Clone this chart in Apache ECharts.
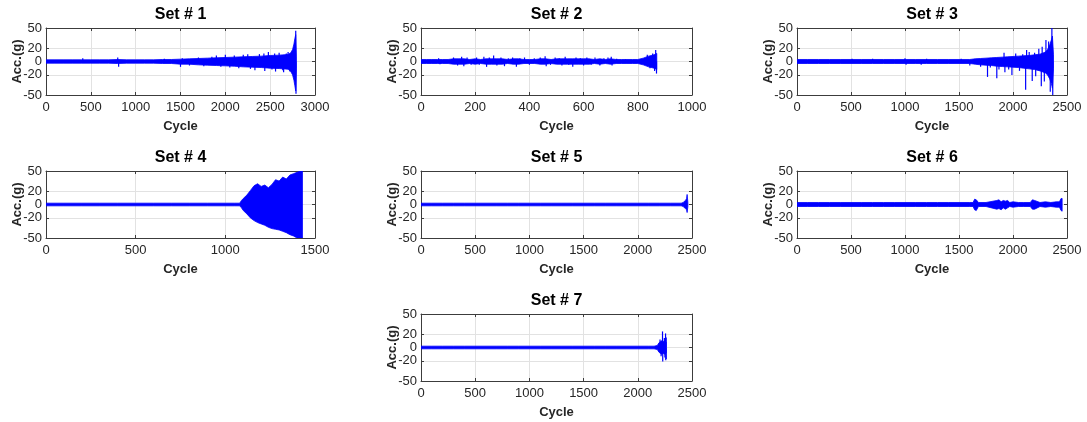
<!DOCTYPE html>
<html>
<head>
<meta charset="utf-8">
<script src="https://cdn.jsdelivr.net/npm/echarts@6/dist/echarts.min.js"></script>
<style>
  html, body { margin: 0; padding: 0; background: #fff; }
  #chart { width: 1087px; height: 422px; }
</style>
</head>
<body>
<div id="chart"></div>
<script>
// Acceleration records per test set.
// Core band: cycle positions with the upper and lower envelope (g).
// Peaks: isolated spikes that stick out of the band (cycle, peak value in g).
const set1Cycle = [0,100,200,300,400,500,600,700,800,900,1000,1100,1200,1300,1400,1500,1600,1700,1800,1900,2000,2100,2200,2300,2400,2500,2600,2700,2730,2750,2765,2775,2785,2792];
const set1Upper = [2.5,2.5,2.5,2.5,2.5,2.5,2.5,2.5,3,2.5,2.5,2.5,2.5,3,3,3.5,4,4.5,5,5.5,6,6.5,7,7.5,8,9,9.5,10.5,13,18,26,34,40,8];
const set1Lower = [-2.5,-2.5,-2.5,-2.5,-2.5,-2.5,-2.5,-2.5,-3,-2.5,-2.5,-2.5,-2.5,-3,-3,-4,-4,-5,-5.5,-6,-6.5,-7,-8,-8.5,-9,-10,-10.5,-11.5,-15,-20,-28,-36,-44,-10];
const set1PeakCycle = [410,800,810,1320,1500,1520,1600,1700,1760,1850,1900,1950,2000,2050,2100,2150,2200,2250,2280,2330,2380,2430,2440,2480,2520,2550,2560,2600,2640,2650,2680,2700,2720,2785,2788];
const set1PeakValue = [5,6,-8,4,-8,5,-6,6,-7,7,9,-8,10,-9,9,-10,10,11,-11,-13,11,12,-14,14,-12,12,-15,13,-13,-16,12,14,-15,46,-48];

const set2Cycle = [0,20,40,60,80,100,120,140,160,180,200,220,240,260,280,300,320,340,360,380,400,420,440,460,480,500,520,540,560,580,600,620,640,660,680,700,720,740,760,780,800,820,840,860,870];
const set2Upper = [3,3,3,3,3,3,4,4,4,3,4,3,4,4,4,4,3,4,4,3,3,3,4,4,3,4,4,4,4,4,4,4,3,4,3,4,3,3,3,3,3,5,8,10,12];
const set2Lower = [-3,-3,-3,-3,-3,-3,-4,-4,-4,-3,-4,-3,-4,-4,-4,-4,-3,-4,-4,-3,-3,-3,-4,-4,-3,-4,-4,-4,-4,-4,-4,-4,-3,-4,-3,-4,-3,-3,-3,-3,-3,-5,-8,-10,-12];
const set2PeakCycle = [65,70,120,135,150,158,170,185,205,215,232,242,252,268,280,295,308,322,338,352,365,382,400,418,440,458,462,478,495,510,520,532,545,560,572,588,600,612,628,642,660,675,690,702,705,722,755,835,845,855,862,866,869];
const set2PeakValue = [5,-4,6,-6,7,-7,6,-5,6,-5,7,-8,6,9,-6,6,-7,5,6,-8,5,6,-5,5,6,8,-7,-5,6,5,-6,7,-5,-8,6,5,-6,6,-5,6,-6,5,6,7,-6,4,3,10,-10,12,-14,17,-18];

const set3Cycle = [0,100,200,300,400,500,600,700,800,900,1000,1100,1200,1300,1400,1500,1600,1650,1700,1750,1800,1850,1900,1950,2000,2050,2100,2150,2200,2250,2300,2320,2340,2355,2365,2375];
const set3Upper = [3,3,3,3,3,3,3,3,3,3,3,3,3,3,3,3,3,4,4.5,5,5.5,6,6.5,7,7.5,8,8.5,9,10,11,14,18,25,32,38,10];
const set3Lower = [-3,-3,-3,-3,-3,-3,-3,-3,-3,-3,-3,-3,-3,-3,-3,-3,-3,-4,-5,-5.5,-6,-7,-7.5,-8,-8.5,-9,-10,-11,-12,-14,-17,-20,-26,-33,-40,-10];
const set3PeakCycle = [510,700,1000,1010,1150,1200,1520,1600,1700,1764,1790,1850,1870,1917,1925,1960,1990,2025,2060,2090,2117,2126,2150,2178,2200,2210,2239,2262,2270,2290,2305,2330,2345,2360,2368];
const set3PeakValue = [4,4,5,-5,-5,4,4,-6,-8,-23,-9,-25,-12,13,-16,-12,-20,12,-14,11,-42,17,14,-29,13,-22,19,-37,22,-30,32,30,-45,50,-50];

const set4Cycle = [0,100,200,300,400,500,600,700,800,900,1000,1050,1080,1090,1100,1120,1140,1160,1180,1200,1220,1240,1260,1280,1300,1320,1340,1360,1380,1400,1420,1430];
const set4Upper = [2,2,2,2,2,2,2,2,2,2,2,2,2,6,9,14,21,28,31,27,29,25,30,37,35,41,38,44,46,48,50,50];
const set4Lower = [-2,-2,-2,-2,-2,-2,-2,-2,-2,-2,-2,-2,-2,-5,-9,-14,-20,-24,-27,-29,-31,-34,-36,-37,-38,-40,-42,-45,-47,-50,-50,-50];
const set4PeakCycle = [];
const set4PeakValue = [];

const set5Cycle = [0,100,200,300,400,500,600,700,800,900,1000,1100,1200,1300,1400,1500,1600,1700,1800,1900,2000,2100,2200,2300,2400,2420,2430,2440,2450,2455,2462];
const set5Upper = [2,2,2,2,2,2,2,2,2,2,2,2,2,2,2,2,2,2,2,2,2,2,2,2,2,3,5,6,9,15,3];
const set5Lower = [-2,-2,-2,-2,-2,-2,-2,-2,-2,-2,-2,-2,-2,-2,-2,-2,-2,-2,-2,-2,-2,-2,-2,-2,-2,-3,-5,-6,-8,-12,-3];
const set5PeakCycle = [];
const set5PeakValue = [];

const set6Cycle = [0,100,200,300,400,500,600,700,800,900,1000,1100,1200,1300,1400,1500,1600,1630,1645,1660,1680,1750,1850,1870,1890,1910,1930,1950,1970,2000,2050,2100,2160,2180,2200,2250,2300,2350,2400,2430,2445,2455];
const set6Upper = [3,3,3,3,3,3,3,3,3,3,3,3,3,3,3,3,3,3,8,7,3,3,6,7,4,6,5,6,3,4,3,3,3,7,6,3,4,3,4,4,9,9];
const set6Lower = [-3,-3,-3,-3,-3,-3,-3,-3,-3,-3,-3,-3,-3,-3,-3,-3,-3,-3,-8,-9,-3,-3,-7,-6,-8,-5,-7,-5,-3,-4,-3,-3,-3,-7,-7,-3,-4,-3,-4,-4,-9,-10];
const set6PeakCycle = [];
const set6PeakValue = [];

const set7Cycle = [0,100,200,300,400,500,600,700,800,900,1000,1100,1200,1300,1400,1500,1600,1700,1800,1900,2000,2100,2150,2180,2195,2210,2220,2235,2250,2262];
const set7Upper = [2,2,2,2,2,2,2,2,2,2,2,2,2,2,2,2,2,2,2,2,2,2,2,3,7,9,10,9,10,8];
const set7Lower = [-2,-2,-2,-2,-2,-2,-2,-2,-2,-2,-2,-2,-2,-2,-2,-2,-2,-2,-2,-2,-2,-2,-2,-3,-7,-9,-10,-9,-10,-8];
const set7PeakCycle = [2205,2215,2228,2230,2245,2250,2256,2258,2262,2262];
const set7PeakValue = [12,-13,24,-21,14,-15,21,-19,15,-17];

const setTitles = ['Set # 1','Set # 2','Set # 3','Set # 4','Set # 5','Set # 6','Set # 7'];
const xAxisMax = [3000, 1000, 2500, 1500, 2500, 2500, 2500];
const xAxisStep = [500, 200, 500, 500, 500, 500, 500];
const yTicks = [-50, -20, 0, 20, 50];

const cycles = [set1Cycle, set2Cycle, set3Cycle, set4Cycle, set5Cycle, set6Cycle, set7Cycle];
const uppers = [set1Upper, set2Upper, set3Upper, set4Upper, set5Upper, set6Upper, set7Upper];
const lowers = [set1Lower, set2Lower, set3Lower, set4Lower, set5Lower, set6Lower, set7Lower];
const peakCycles = [set1PeakCycle, set2PeakCycle, set3PeakCycle, set4PeakCycle, set5PeakCycle, set6PeakCycle, set7PeakCycle];
const peakValues = [set1PeakValue, set2PeakValue, set3PeakValue, set4PeakValue, set5PeakValue, set6PeakValue, set7PeakValue];

// Plot frames (pixels)
const boxH = 67;
const boxes = [
  { left: 46,  top: 28,  width: 269 },
  { left: 421, top: 28,  width: 271 },
  { left: 797, top: 28,  width: 270 },
  { left: 46,  top: 171, width: 269 },
  { left: 421, top: 171, width: 271 },
  { left: 797, top: 171, width: 270 },
  { left: 421, top: 314, width: 271 }
];

const FONT = "'Liberation Sans', Arial, sans-serif";
const AX = '#3c3c3c';
const TXT = '#262626';
const GRID = '#e2e2e2';
const SIGNAL = '#0000ff';

const grid = [], xAxis = [], yAxis = [], series = [], graphic = [];

boxes.forEach((b, i) => {
  grid.push({ left: b.left, top: b.top, width: b.width, height: boxH, containLabel: false });

  const tick = { show: true, inside: true, length: 3, lineStyle: { color: AX, width: 1 } };
  const line = { show: true, onZero: false, lineStyle: { color: AX, width: 1 } };

  xAxis.push({
    type: 'value', gridIndex: i, position: 'bottom', min: 0, max: xAxisMax[i], interval: xAxisStep[i],
    axisLine: line, axisTick: tick,
    axisLabel: { color: TXT, fontSize: 13, fontFamily: FONT, margin: 6, hideOverlap: false,
                 formatter: v => String(v) },
    splitLine: { show: true, lineStyle: { color: GRID, width: 1 } },
    name: 'Cycle', nameLocation: 'middle', nameGap: 25, nameMoveOverlap: false,
    nameTextStyle: { color: TXT, fontSize: 13, fontWeight: 'bold', fontFamily: FONT }
  });
  xAxis.push({
    type: 'value', gridIndex: i, position: 'top', min: 0, max: xAxisMax[i], interval: xAxisStep[i],
    axisLine: line, axisTick: tick, axisLabel: { show: false }, splitLine: { show: false }
  });

  yAxis.push({
    type: 'value', gridIndex: i, position: 'left', min: -50, max: 50,
    axisLine: line,
    axisTick: Object.assign({ customValues: yTicks }, tick),
    axisLabel: { color: TXT, fontSize: 13, fontFamily: FONT, margin: 4, customValues: yTicks,
                 formatter: v => String(v) },
    splitLine: { show: true, lineStyle: { color: GRID, width: 1 } },
    name: 'Acc.(g)', nameLocation: 'middle', nameGap: 22, nameMoveOverlap: false,
    nameTextStyle: { color: TXT, fontSize: 13, fontWeight: 'bold', fontFamily: FONT }
  });
  yAxis.push({
    type: 'value', gridIndex: i, position: 'right', min: -50, max: 50,
    axisLine: line,
    axisTick: Object.assign({ customValues: yTicks }, tick),
    axisLabel: { show: false }, splitLine: { show: false }
  });

  // Core band of the record
  const band = cycles[i].map((c, k) => [c, lowers[i][k], uppers[i][k]]);
  series.push({
    type: 'custom', xAxisIndex: 2 * i, yAxisIndex: 2 * i, silent: true, clip: true,
    encode: { x: 0, y: [1, 2] },
    data: band,
    renderItem: function (params, api) {
      if (params.dataIndex !== 0) return null;
      const top = band.map(d => api.coord([d[0], d[2]]));
      const bottom = band.map(d => api.coord([d[0], d[1]])).reverse();
      return {
        type: 'polygon',
        shape: { points: top.concat(bottom) },
        style: { fill: SIGNAL, stroke: SIGNAL, lineWidth: 0.8 }
      };
    }
  });

  // Isolated peaks drawn as thin strokes from zero
  const peaks = peakCycles[i].map((c, k) => [c, peakValues[i][k]]);
  if (peaks.length) {
    series.push({
      type: 'custom', xAxisIndex: 2 * i, yAxisIndex: 2 * i, silent: true, clip: true,
      encode: { x: 0, y: 1 },
      data: peaks,
      renderItem: function (params, api) {
        const p0 = api.coord([api.value(0), 0]);
        const p1 = api.coord([api.value(0), api.value(1)]);
        return {
          type: 'line',
          shape: { x1: p0[0], y1: p0[1], x2: p1[0], y2: p1[1] },
          style: { stroke: SIGNAL, lineWidth: 1.2 }
        };
      }
    });
  }

  graphic.push({
    type: 'text', x: b.left + b.width / 2, y: b.top - 13,
    style: { text: setTitles[i], textAlign: 'center', textVerticalAlign: 'middle',
             font: "bold 16px 'Liberation Sans', Arial, sans-serif", fill: '#000' }
  });
});

const chart = echarts.init(document.getElementById('chart'), null, { renderer: 'canvas' });
chart.setOption({
  animation: false,
  backgroundColor: '#fff',
  grid: grid, xAxis: xAxis, yAxis: yAxis, series: series, graphic: graphic
});
</script>
</body>
</html>
